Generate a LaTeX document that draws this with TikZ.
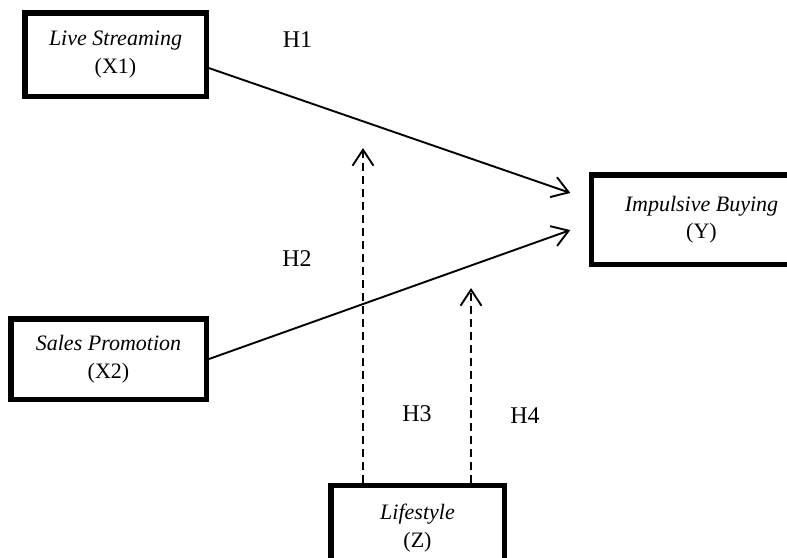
\documentclass[tikz,border=0pt]{standalone}
\usepackage{fontspec}
\setmainfont{Liberation Serif}
\usetikzlibrary{arrows.meta}

\begin{document}
\begin{tikzpicture}[x=1pt,y=-1pt,line join=miter,>={Straight Barb[length=16pt,width=21pt]},line width=1.8pt]
            \tikzset{varbox/.style={draw,line width=5.5pt,align=center,inner sep=0pt,font=\fontsize{22}{27.5}\selectfont},
                hyp/.style={font=\fontsize{24}{28}\selectfont},
                link/.style={->,line width=1.9pt},
                modlink/.style={link,dash pattern=on 8pt off 5pt}}
            \useasboundingbox (0,0) rectangle (787,557);
            % variables
            \node[varbox,minimum width=181.5pt,minimum height=83.5pt] (ls) at (115.5,54.5) {\textit{Live Streaming}\\(X1)};
            \node[varbox,minimum width=195.5pt,minimum height=80.5pt] (sp) at (108.5,359) {\textit{Sales Promotion}\\(X2)};
            \node[varbox,minimum width=220pt,minimum height=89.5pt] (ib) at (701.5,219.5) {\textit{Impulsive Buying}\\(Y)};
            \node[varbox,minimum width=173.5pt,minimum height=85pt] (lf) at (417.5,528) {\textit{Lifestyle}\\(Z)};
            % hypotheses
            \foreach \h/\x/\y in {H1/297.5/39.5,H2/297/258.5,H3/417/414,H4/525/416}
            \node[hyp] (\h) at (\x,\y) {\h};
            % direct effects
            \draw[link,shorten >=19.5pt] ([yshift=-13.6pt]ls.east) -- ([yshift=20.2pt]ib.west);
            \draw[link,shorten >=19.6pt] (sp.east) -- ([yshift=-4pt]ib.west);
            % moderation
            \coordinate (m3) at (363,148);
            \coordinate (m4) at (471,288);
            \draw[modlink] (m3 |- lf.north) -- (m3);
            \draw[modlink] (m4 |- lf.north) -- (m4);
        \end{tikzpicture}
\end{document}
